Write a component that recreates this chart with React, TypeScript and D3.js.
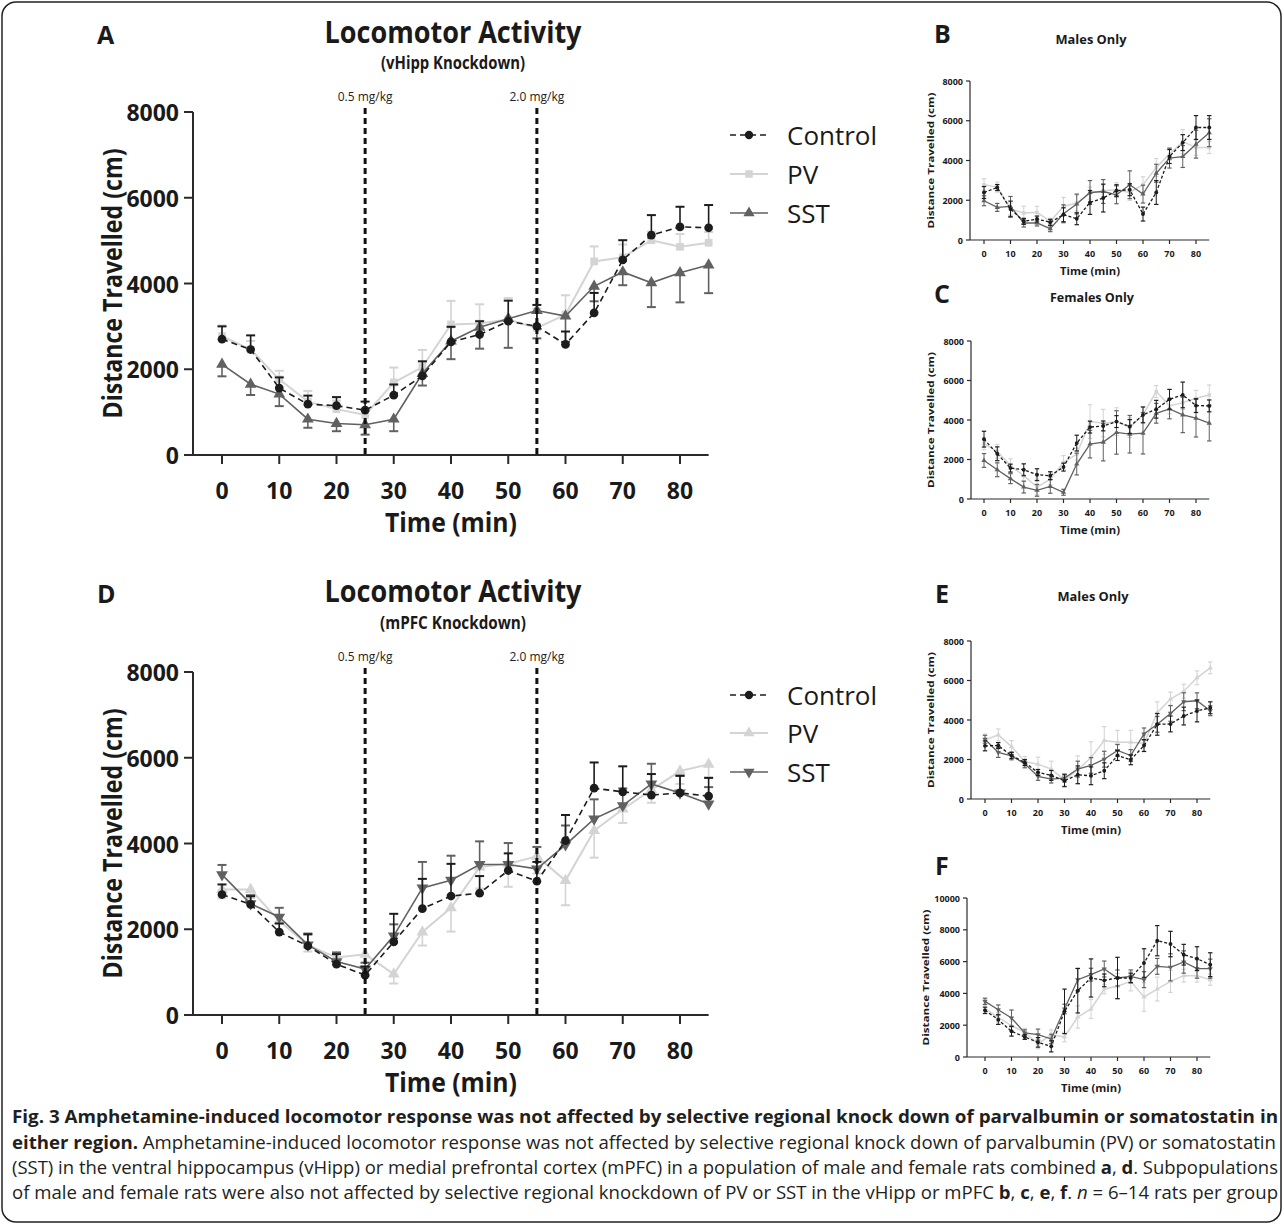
import React, { useEffect } from 'react';
import * as d3 from 'd3';

// time points (min)
const times = [0, 5, 10, 15, 20, 25, 30, 35, 40, 45, 50, 55, 60, 65, 70, 75, 80, 85];
const xTicks = [0, 10, 20, 30, 40, 50, 60, 70, 80];
const yTicks8 = [0, 2000, 4000, 6000, 8000];
const yTicks10 = [0, 2000, 4000, 6000, 8000, 10000];
const doses = [25, 55];
const doseLabels = ['0.5 mg/kg', '2.0 mg/kg'];
const groups = ['Control', 'PV', 'SST'];

// A: vHipp knockdown, combined
const vhControl = [2700, 2460, 1560, 1185, 1150, 1045, 1395, 1845, 2640, 2810, 3120, 3000, 2580, 3315, 4550, 5130, 5320, 5300];
const vhControlErr = [300, 330, 250, 200, 200, 200, 250, 340, 350, 310, 480, 500, 300, 465, 460, 465, 470, 530];
const vhPV = [2770, 2460, 1765, 1245, 1070, 935, 1690, 2050, 3045, 3065, 3160, 2965, 3275, 4515, 4610, 5010, 4855, 4950];
const vhPVErr = [250, 200, 200, 250, 200, 150, 350, 400, 550, 450, 500, 450, 450, 350, 300, 200, 300, 250];
const vhSST = [2115, 1650, 1420, 835, 735, 705, 835, 1900, 2655, 2980, 3180, 3370, 3240, 3935, 4270, 4015, 4250, 4430];
const vhSSTErr = [280, 250, 280, 200, 180, 230, 280, 280, 420, 500, 680, 650, 600, 350, 310, 565, 690, 655];

// B: vHipp males
const vhMControl = [2390, 2640, 1555, 940, 1055, 890, 1270, 1070, 1890, 2110, 2480, 2530, 1305, 2390, 4200, 4900, 5660, 5660];
const vhMControlErr = [300, 150, 400, 150, 150, 150, 350, 300, 600, 700, 300, 300, 350, 600, 350, 400, 600, 600];
const vhMPV = [2780, 2660, 1560, 1355, 1390, 940, 1690, 1860, 2360, 2480, 2530, 2390, 2780, 3650, 4320, 4950, 4650, 4650];
const vhMPVErr = [300, 250, 300, 350, 300, 150, 450, 400, 300, 300, 350, 400, 400, 450, 300, 600, 400, 300];
const vhMSST = [1975, 1640, 1690, 855, 855, 570, 1320, 1810, 2390, 2440, 2275, 2780, 2310, 3360, 4120, 4200, 4820, 5400];
const vhMSSTErr = [250, 200, 500, 200, 150, 150, 450, 500, 600, 600, 450, 700, 450, 450, 500, 550, 700, 700];

// C: vHipp females
const vhFControl = [3030, 2290, 1565, 1480, 1230, 1180, 1615, 2830, 3640, 3700, 3920, 3670, 4260, 4545, 5050, 5270, 4730, 4715];
const vhFControlErr = [400, 350, 200, 300, 300, 200, 200, 400, 300, 250, 300, 350, 400, 450, 500, 650, 350, 300];
const vhFPV = [2795, 2410, 1685, 1180, 605, 1010, 1850, 2270, 3920, 3840, 3920, 3620, 4260, 5440, 4715, 4880, 5100, 5270];
const vhFPVErr = [300, 350, 350, 300, 400, 300, 350, 300, 850, 700, 700, 500, 400, 300, 400, 350, 400, 500];
const vhFSST = [1950, 1480, 1030, 605, 440, 640, 340, 1770, 2780, 2880, 3370, 3280, 3330, 4340, 4560, 4260, 4090, 3840];
const vhFSSTErr = [350, 350, 250, 300, 300, 350, 150, 550, 700, 950, 1100, 950, 1050, 500, 500, 900, 950, 900];

// D: mPFC knockdown, combined
const mpControl = [2810, 2580, 1935, 1610, 1185, 930, 1705, 2480, 2775, 2840, 3370, 3120, 4065, 5290, 5205, 5130, 5180, 5105];
const mpControlErr = [235, 190, 200, 270, 235, 200, 655, 695, 750, 400, 400, 450, 600, 600, 595, 490, 400, 425];
const mpPV = [2925, 2925, 2190, 1630, 1340, 1415, 955, 1935, 2500, 3450, 3525, 3700, 3135, 4300, 4800, 5250, 5690, 5845];
const mpPVErr = [200, 200, 250, 150, 150, 200, 220, 315, 555, 500, 535, 400, 575, 630, 320, 300, 300, 300];
const mpSST = [3275, 2595, 2285, 1635, 1245, 1070, 1845, 2965, 3145, 3510, 3510, 3410, 3970, 4575, 4885, 5390, 5180, 4925];
const mpSSTErr = [225, 200, 215, 265, 215, 150, 270, 605, 570, 540, 500, 510, 450, 455, 400, 470, 400, 390];

// E: mPFC males
const mpMControl = [2690, 2705, 2200, 1850, 1345, 1195, 925, 1225, 1175, 1430, 2200, 1985, 2705, 3780, 3800, 4200, 4455, 4620];
const mpMControlErr = [250, 150, 150, 150, 150, 250, 300, 450, 450, 400, 250, 250, 300, 550, 400, 450, 550, 300];
const mpMPV = [2990, 3245, 2655, 1900, 1765, 1515, 975, 1480, 2100, 2960, 2875, 2875, 2825, 4370, 5060, 5460, 6135, 6640];
const mpMPVErr = [300, 300, 300, 250, 350, 400, 300, 700, 800, 700, 600, 600, 400, 550, 350, 350, 350, 300];
const mpMSST = [3025, 2355, 2185, 1780, 1145, 1010, 1060, 1515, 1700, 2015, 2455, 2200, 3295, 3780, 4335, 4925, 4975, 4470];
const mpMSSTErr = [200, 250, 200, 200, 200, 200, 200, 400, 400, 400, 300, 300, 300, 400, 400, 450, 400, 250];

// F: mPFC females
const mpFControl = [2935, 2350, 1615, 1260, 920, 670, 2870, 4170, 4970, 4820, 4970, 4970, 5910, 7315, 7105, 6435, 6185, 5805];
const mpFControlErr = [200, 300, 300, 150, 300, 350, 1400, 1400, 1200, 400, 1300, 300, 900, 950, 800, 650, 750, 750];
const mpFPV = [3040, 2495, 1970, 1550, 820, 1405, 1260, 2515, 3020, 4275, 4445, 4760, 3775, 4275, 4760, 5115, 5115, 4865];
const mpFPVErr = [300, 300, 300, 250, 300, 300, 300, 700, 600, 300, 800, 600, 900, 750, 700, 400, 400, 350];
const mpFSST = [3500, 2975, 2455, 1510, 1405, 1130, 3020, 4865, 5180, 5535, 4970, 5075, 4865, 5700, 5640, 5975, 5555, 5555];
const mpFSSTErr = [200, 300, 500, 200, 350, 300, 300, 700, 400, 500, 500, 400, 500, 500, 850, 700, 600, 600];

const FONT = '"Open Sans", "Noto Sans", sans-serif';
const C_CTRL = '#1c1c1c';
const C_PV = '#d4d4d4';
const C_SST = '#616161';

type Shape = 'circle' | 'square' | 'up' | 'down';
type Series = { values: number[]; err: number[]; dir: 'up' | 'down' | 'both'; color: string; dash?: string; shape: Shape; width: number };

function symbolPath(shape: Shape, size: number) {
  const t = shape === 'circle' ? d3.symbolCircle : shape === 'square' ? d3.symbolSquare : d3.symbolTriangle;
  return d3.symbol().type(t).size(size)() as string;
}

function Chart({ big, x0, x80, yBottom, yTop, yMax, yTicks, axisX, series, labelX }: any) {
  const x = d3.scaleLinear().domain([0, 80]).range([x0, x80]);
  const y = d3.scaleLinear().domain([0, yMax]).range([yBottom, yTop]);
  const line = d3.line<number>().x((_, i) => x(times[i])).y((d) => y(d));
  const tickFs = big ? 23 : 9;
  const cap = big ? 4.5 : 2.2;
  const symSize = big ? 60 : 12;
  const axisW = big ? 2 : 1.2;
  const tickLen = big ? 9 : 4;
  const xEnd = x(85);
  return (
    <g>
      {/* series */}
      {series.map((s: Series, k: number) => (
        <g key={k}>
          {s.values.map((v, i) => {
            const e = s.err[i];
            const top = s.dir === 'down' ? v : v + e;
            const bot = s.dir === 'up' ? v : v - e;
            return (
              <g key={i} stroke={s.color} strokeWidth={big ? 1.6 : 1}>
                <line x1={x(times[i])} x2={x(times[i])} y1={y(top)} y2={y(bot)} />
                {s.dir !== 'down' && <line x1={x(times[i]) - cap} x2={x(times[i]) + cap} y1={y(top)} y2={y(top)} strokeWidth={big ? 2 : 1.2} />}
                {s.dir !== 'up' && <line x1={x(times[i]) - cap} x2={x(times[i]) + cap} y1={y(bot)} y2={y(bot)} strokeWidth={big ? 2 : 1.2} />}
              </g>
            );
          })}
          <path d={line(s.values) as string} fill="none" stroke={s.color} strokeWidth={s.width} strokeDasharray={s.dash} />
          {s.values.map((v, i) => (
            <path
              key={i}
              d={symbolPath(s.shape, symSize)}
              fill={s.color}
              transform={`translate(${x(times[i])},${y(v)})${s.shape === 'down' ? ' rotate(180)' : ''}`}
            />
          ))}
        </g>
      ))}
      {/* dose lines */}
      {big &&
        doses.map((d, i) => (
          <g key={d}>
            <line x1={x(d)} x2={x(d)} y1={yTop - 4} y2={yBottom} stroke="#111" strokeWidth={3} strokeDasharray="6,4" />
            <text x={x(d)} y={yTop - 11} textAnchor="middle" fontSize={12} fontFamily={FONT} fill="#222">
              {doseLabels[i]}
            </text>
          </g>
        ))}
      {/* axes */}
      <g stroke="#2a2a2a" strokeWidth={axisW}>
        <line x1={axisX} x2={axisX} y1={yTop} y2={yBottom} />
        <line x1={axisX} x2={xEnd} y1={yBottom} y2={yBottom} />
        {yTicks.map((t: number) => (
          <line key={t} x1={axisX - tickLen} x2={axisX} y1={y(t)} y2={y(t)} />
        ))}
        {xTicks.map((t) => (
          <line key={t} x1={x(t)} x2={x(t)} y1={yBottom} y2={yBottom + tickLen} />
        ))}
      </g>
      <g fontFamily={FONT} fontWeight={700} fontSize={tickFs} fill="#1a1a1a">
        {yTicks.map((t: number) => (
          <text key={t} x={axisX - (big ? 14 : 7)} y={y(t)} textAnchor="end" dominantBaseline="central">
            {t}
          </text>
        ))}
        {xTicks.map((t) => (
          <text key={t} x={x(t)} y={yBottom + (big ? 35 : 13)} textAnchor="middle" dominantBaseline="central">
            {t}
          </text>
        ))}
      </g>
      <text
        transform={`translate(${labelX},${(yTop + yBottom) / 2}) rotate(-90)`}
        textAnchor="middle"
        dominantBaseline="central"
        fontFamily={FONT}
        fontWeight={700}
        fontSize={big ? 26 : 9.5}
        textLength={big ? 270 : 136}
        lengthAdjust="spacingAndGlyphs"
        fill="#1a1a1a"
      >
        Distance Travelled (cm)
      </text>
      <text
        x={(x0 + x80) / 2}
        y={yBottom + (big ? 67 : 31)}
        textAnchor="middle"
        dominantBaseline="central"
        fontFamily={FONT}
        fontWeight={700}
        fontSize={big ? 26 : 10.5}
        textLength={big ? 132 : 60}
        lengthAdjust="spacingAndGlyphs"
        fill="#1a1a1a"
      >
        Time (min)
      </text>
    </g>
  );
}

function Legend({ x, ys, series }: any) {
  return (
    <g>
      {series.map((s: Series, i: number) => (
        <g key={i}>
          <line x1={x} x2={x + 38} y1={ys[i]} y2={ys[i]} stroke={s.color} strokeWidth={s.width} strokeDasharray={s.dash} />
          <path
            d={symbolPath(s.shape, 55)}
            fill={s.color}
            transform={`translate(${x + 19},${ys[i]})${s.shape === 'down' ? ' rotate(180)' : ''}`}
          />
          <text x={x + 57} y={ys[i]} dominantBaseline="central" fontFamily={FONT} fontSize={26} fill="#1a1a1a">
            {groups[i]}
          </text>
        </g>
      ))}
    </g>
  );
}

function mk(values: number[], err: number[], kind: number, dir: any, shape: Shape, big: boolean): Series {
  const color = [C_CTRL, C_PV, C_SST][kind];
  return {
    values,
    err,
    dir,
    color,
    shape,
    dash: kind === 0 ? (big ? '6,4' : '3,2') : undefined,
    width: big ? (kind === 1 ? 2 : 1.6) : kind === 1 ? 1.5 : 1.3,
  };
}

function Letter({ x, y, t }: any) {
  return (
    <text x={x} y={y} fontFamily={FONT} fontWeight={700} fontSize={25} fill="#1a1a1a">
      {t}
    </text>
  );
}

function SubTitle({ x, y, t, w }: any) {
  return (
    <text x={x} y={y} textAnchor="middle" fontFamily={FONT} fontWeight={700} fontSize={11.5} textLength={w} lengthAdjust="spacingAndGlyphs" fill="#1a1a1a">
      {t}
    </text>
  );
}

export default function App() {
  useEffect(() => {
    document.body.style.margin = '0';
  }, []);

  // order: PV, SST, Control (control on top)
  const seriesA = [mk(vhPV, vhPVErr, 1, 'up', 'square', true), mk(vhSST, vhSSTErr, 2, 'down', 'up', true), mk(vhControl, vhControlErr, 0, 'up', 'circle', true)];
  const seriesD = [mk(mpPV, mpPVErr, 1, 'down', 'up', true), mk(mpSST, mpSSTErr, 2, 'up', 'down', true), mk(mpControl, mpControlErr, 0, 'up', 'circle', true)];
  const seriesB = [mk(vhMPV, vhMPVErr, 1, 'both', 'square', false), mk(vhMSST, vhMSSTErr, 2, 'both', 'up', false), mk(vhMControl, vhMControlErr, 0, 'both', 'circle', false)];
  const seriesC = [mk(vhFPV, vhFPVErr, 1, 'both', 'square', false), mk(vhFSST, vhFSSTErr, 2, 'both', 'up', false), mk(vhFControl, vhFControlErr, 0, 'both', 'circle', false)];
  const seriesE = [mk(mpMPV, mpMPVErr, 1, 'both', 'up', false), mk(mpMSST, mpMSSTErr, 2, 'both', 'down', false), mk(mpMControl, mpMControlErr, 0, 'both', 'circle', false)];
  const seriesF = [mk(mpFPV, mpFPVErr, 1, 'both', 'up', false), mk(mpFSST, mpFSSTErr, 2, 'both', 'down', false), mk(mpFControl, mpFControlErr, 0, 'both', 'circle', false)];

  const legendA = [seriesA[2], seriesA[0], seriesA[1]];
  const legendD = [seriesD[2], seriesD[0], seriesD[1]];

  return (
    <svg width={1284} height={1225} style={{ display: 'block', background: '#fff' }}>
      <rect x={2} y={2} width={1279} height={1220} rx={14} fill="#fff" stroke="#222" strokeWidth={1.5} />

      {/* Panel A */}
      <Letter x={97} y={44} t="A" />
      <text x={453} y={43} textAnchor="middle" fontFamily={FONT} fontWeight={700} fontSize={30} textLength={257} lengthAdjust="spacingAndGlyphs" fill="#1a1a1a">
        Locomotor Activity
      </text>
      <text x={453} y={69} textAnchor="middle" fontFamily={FONT} fontWeight={700} fontSize={17} textLength={144} lengthAdjust="spacingAndGlyphs" fill="#1a1a1a">
        (vHipp Knockdown)
      </text>
      <Chart big x0={222} x80={680} yBottom={455} yTop={112} yMax={8000} yTicks={yTicks8} axisX={193} series={seriesA} labelX={112} />
      <Legend x={730} ys={[135, 174, 213]} series={legendA} />

      {/* Panel D */}
      <Letter x={97} y={603} t="D" />
      <text x={453} y={602} textAnchor="middle" fontFamily={FONT} fontWeight={700} fontSize={30} textLength={257} lengthAdjust="spacingAndGlyphs" fill="#1a1a1a">
        Locomotor Activity
      </text>
      <text x={453} y={629} textAnchor="middle" fontFamily={FONT} fontWeight={700} fontSize={17} textLength={146} lengthAdjust="spacingAndGlyphs" fill="#1a1a1a">
        (mPFC Knockdown)
      </text>
      <Chart big x0={222} x80={680} yBottom={1015} yTop={672} yMax={8000} yTicks={yTicks8} axisX={193} series={seriesD} labelX={112} />
      <Legend x={730} ys={[695, 733, 772]} series={legendD} />

      {/* Panel B */}
      <Letter x={934} y={43} t="B" />
      <SubTitle x={1091} y={44} t="Males Only" w={71} />
      <Chart x0={984} x80={1196} yBottom={240} yTop={81} yMax={8000} yTicks={yTicks8} axisX={970} series={seriesB} labelX={930} />

      {/* Panel C */}
      <Letter x={934} y={303} t="C" />
      <SubTitle x={1092} y={302} t="Females Only" w={84} />
      <Chart x0={984} x80={1196} yBottom={499} yTop={341} yMax={8000} yTicks={yTicks8} axisX={971} series={seriesC} labelX={930} />

      {/* Panel E */}
      <Letter x={935} y={603} t="E" />
      <SubTitle x={1093} y={601} t="Males Only" w={71} />
      <Chart x0={985} x80={1197} yBottom={799} yTop={641} yMax={8000} yTicks={yTicks8} axisX={971} series={seriesE} labelX={930} />

      {/* Panel F */}
      <Letter x={935} y={875} t="F" />
      <Chart x0={985} x80={1197} yBottom={1057} yTop={898} yMax={10000} yTicks={yTicks10} axisX={967} series={seriesF} labelX={925} />

      {/* caption */}
      <g fontFamily={FONT} fontSize={18} fill="#231f20">
        <text x={12} y={1123} fontWeight={700} textLength={1266} lengthAdjust="spacingAndGlyphs">
          Fig. 3 Amphetamine-induced locomotor response was not affected by selective regional knock down of parvalbumin or somatostatin in
        </text>
        <text x={12} y={1149} textLength={1264} lengthAdjust="spacingAndGlyphs">
          <tspan fontWeight={700}>either region.</tspan> Amphetamine-induced locomotor response was not affected by selective regional knock down of parvalbumin (PV) or somatostatin
        </text>
        <text x={12} y={1174} textLength={1266} lengthAdjust="spacingAndGlyphs">
          (SST) in the ventral hippocampus (vHipp) or medial prefrontal cortex (mPFC) in a population of male and female rats combined <tspan fontWeight={700}>a</tspan>, <tspan fontWeight={700}>d</tspan>. Subpopulations
        </text>
        <text x={12} y={1199} textLength={1266} lengthAdjust="spacingAndGlyphs">
          of male and female rats were also not affected by selective regional knockdown of PV or SST in the vHipp or mPFC <tspan fontWeight={700}>b</tspan>, <tspan fontWeight={700}>c</tspan>, <tspan fontWeight={700}>e</tspan>, <tspan fontWeight={700}>f</tspan>. <tspan fontStyle="italic">n</tspan> = 6–14 rats per group
        </text>
      </g>
    </svg>
  );
}
